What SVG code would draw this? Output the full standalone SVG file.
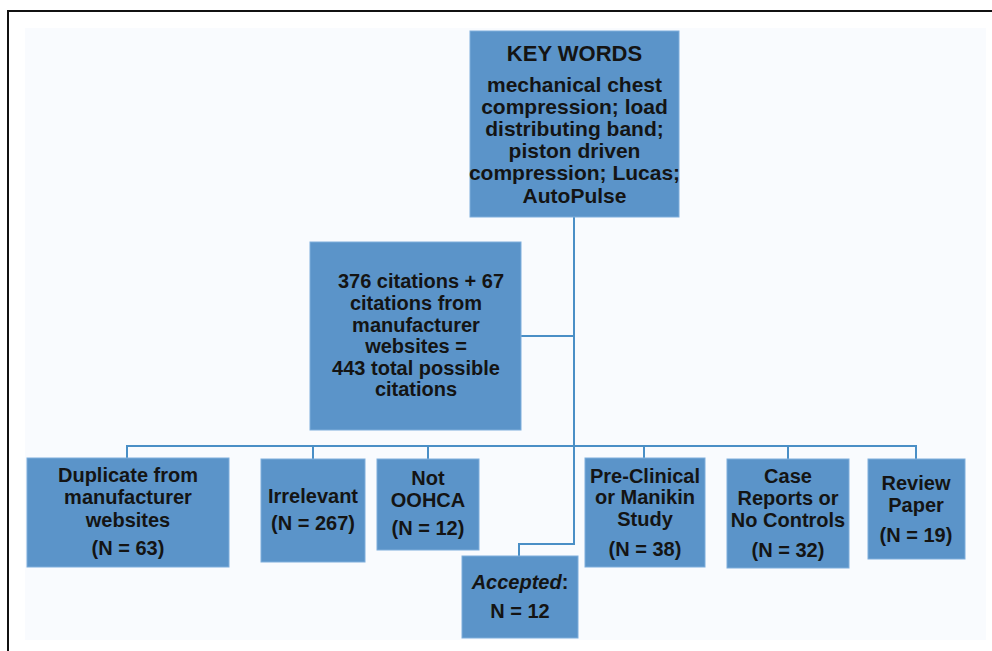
<svg xmlns="http://www.w3.org/2000/svg" width="992" height="651" viewBox="0 0 992 651">
<style>
.box{fill:#5b94c9;stroke:#7eaedb;stroke-width:1}
.t{font-family:"Liberation Sans",Arial,sans-serif;font-weight:bold;font-size:20px;fill:#141414;text-anchor:middle}
.k{font-size:21px}
.h{font-size:22px}
.c{fill:none;stroke:#4a8fc6;stroke-width:2}
</style>
<rect x="0" y="0" width="992" height="651" fill="#ffffff"/>
<rect x="25" y="28" width="961" height="612" fill="#f9fbfe"/>
<path d="M8 651 V11 H992" fill="none" stroke="#111" stroke-width="2"/>
<g id="connectors">
<path class="c" d="M574 217 V544 H519 V556"/>
<path class="c" d="M521 336 H574"/>
<path class="c" d="M127 458 V446 H916 V459"/>
<path class="c" d="M313 446 V459 M428 446 V459 M644 446 V458 M788 446 V459"/>
</g>
<g id="keywords">
<rect class="box" x="470" y="31" width="209" height="186"/>
<text class="t h" x="574.5" y="61">KEY WORDS</text>
<text class="t k" x="574.5" y="92">mechanical chest</text>
<text class="t k" x="574.5" y="114">compression; load</text>
<text class="t k" x="574.5" y="136">distributing band;</text>
<text class="t k" x="574.5" y="158">piston driven</text>
<text class="t k" x="574.5" y="180">compression; Lucas;</text>
<text class="t k" x="574.5" y="203">AutoPulse</text>
</g>
<g id="citations">
<rect class="box" x="310" y="242" width="211" height="188"/>
<text class="t" x="421" y="288">376 citations + 67</text>
<text class="t" x="416" y="310">citations from</text>
<text class="t" x="416" y="332">manufacturer</text>
<text class="t" x="416" y="353">websites =</text>
<text class="t" x="416" y="375">443 total possible</text>
<text class="t" x="416" y="396">citations</text>
</g>
<g id="duplicate">
<rect class="box" x="27" y="458" width="202" height="109"/>
<text class="t" x="128" y="482">Duplicate from</text>
<text class="t" x="128" y="504">manufacturer</text>
<text class="t" x="128" y="527">websites</text>
<text class="t" x="128" y="555">(N = 63)</text>
</g>
<g id="irrelevant">
<rect class="box" x="261" y="459" width="104" height="103"/>
<text class="t" x="313" y="503">Irrelevant</text>
<text class="t" x="313" y="530">(N = 267)</text>
</g>
<g id="notoohca">
<rect class="box" x="377" y="459" width="102" height="91"/>
<text class="t" x="428" y="485">Not</text>
<text class="t" x="428" y="507">OOHCA</text>
<text class="t" x="428" y="535">(N = 12)</text>
</g>
<g id="accepted">
<rect class="box" x="462" y="556" width="116" height="82"/>
<text class="t" x="520" y="589"><tspan font-style="italic">Accepted</tspan>:</text>
<text class="t" x="520" y="618">N = 12</text>
</g>
<g id="preclinical">
<rect class="box" x="585" y="458" width="120" height="109"/>
<text class="t" x="645" y="483">Pre-Clinical</text>
<text class="t" x="645" y="504">or Manikin</text>
<text class="t" x="645" y="526">Study</text>
<text class="t" x="645" y="556">(N = 38)</text>
</g>
<g id="casereports">
<rect class="box" x="727" y="459" width="122" height="109"/>
<text class="t" x="788" y="483">Case</text>
<text class="t" x="788" y="505">Reports or</text>
<text class="t" x="788" y="527">No Controls</text>
<text class="t" x="788" y="557">(N = 32)</text>
</g>
<g id="review">
<rect class="box" x="868" y="459" width="97" height="100"/>
<text class="t" x="916" y="490">Review</text>
<text class="t" x="916" y="512">Paper</text>
<text class="t" x="916" y="542">(N = 19)</text>
</g>
</svg>
